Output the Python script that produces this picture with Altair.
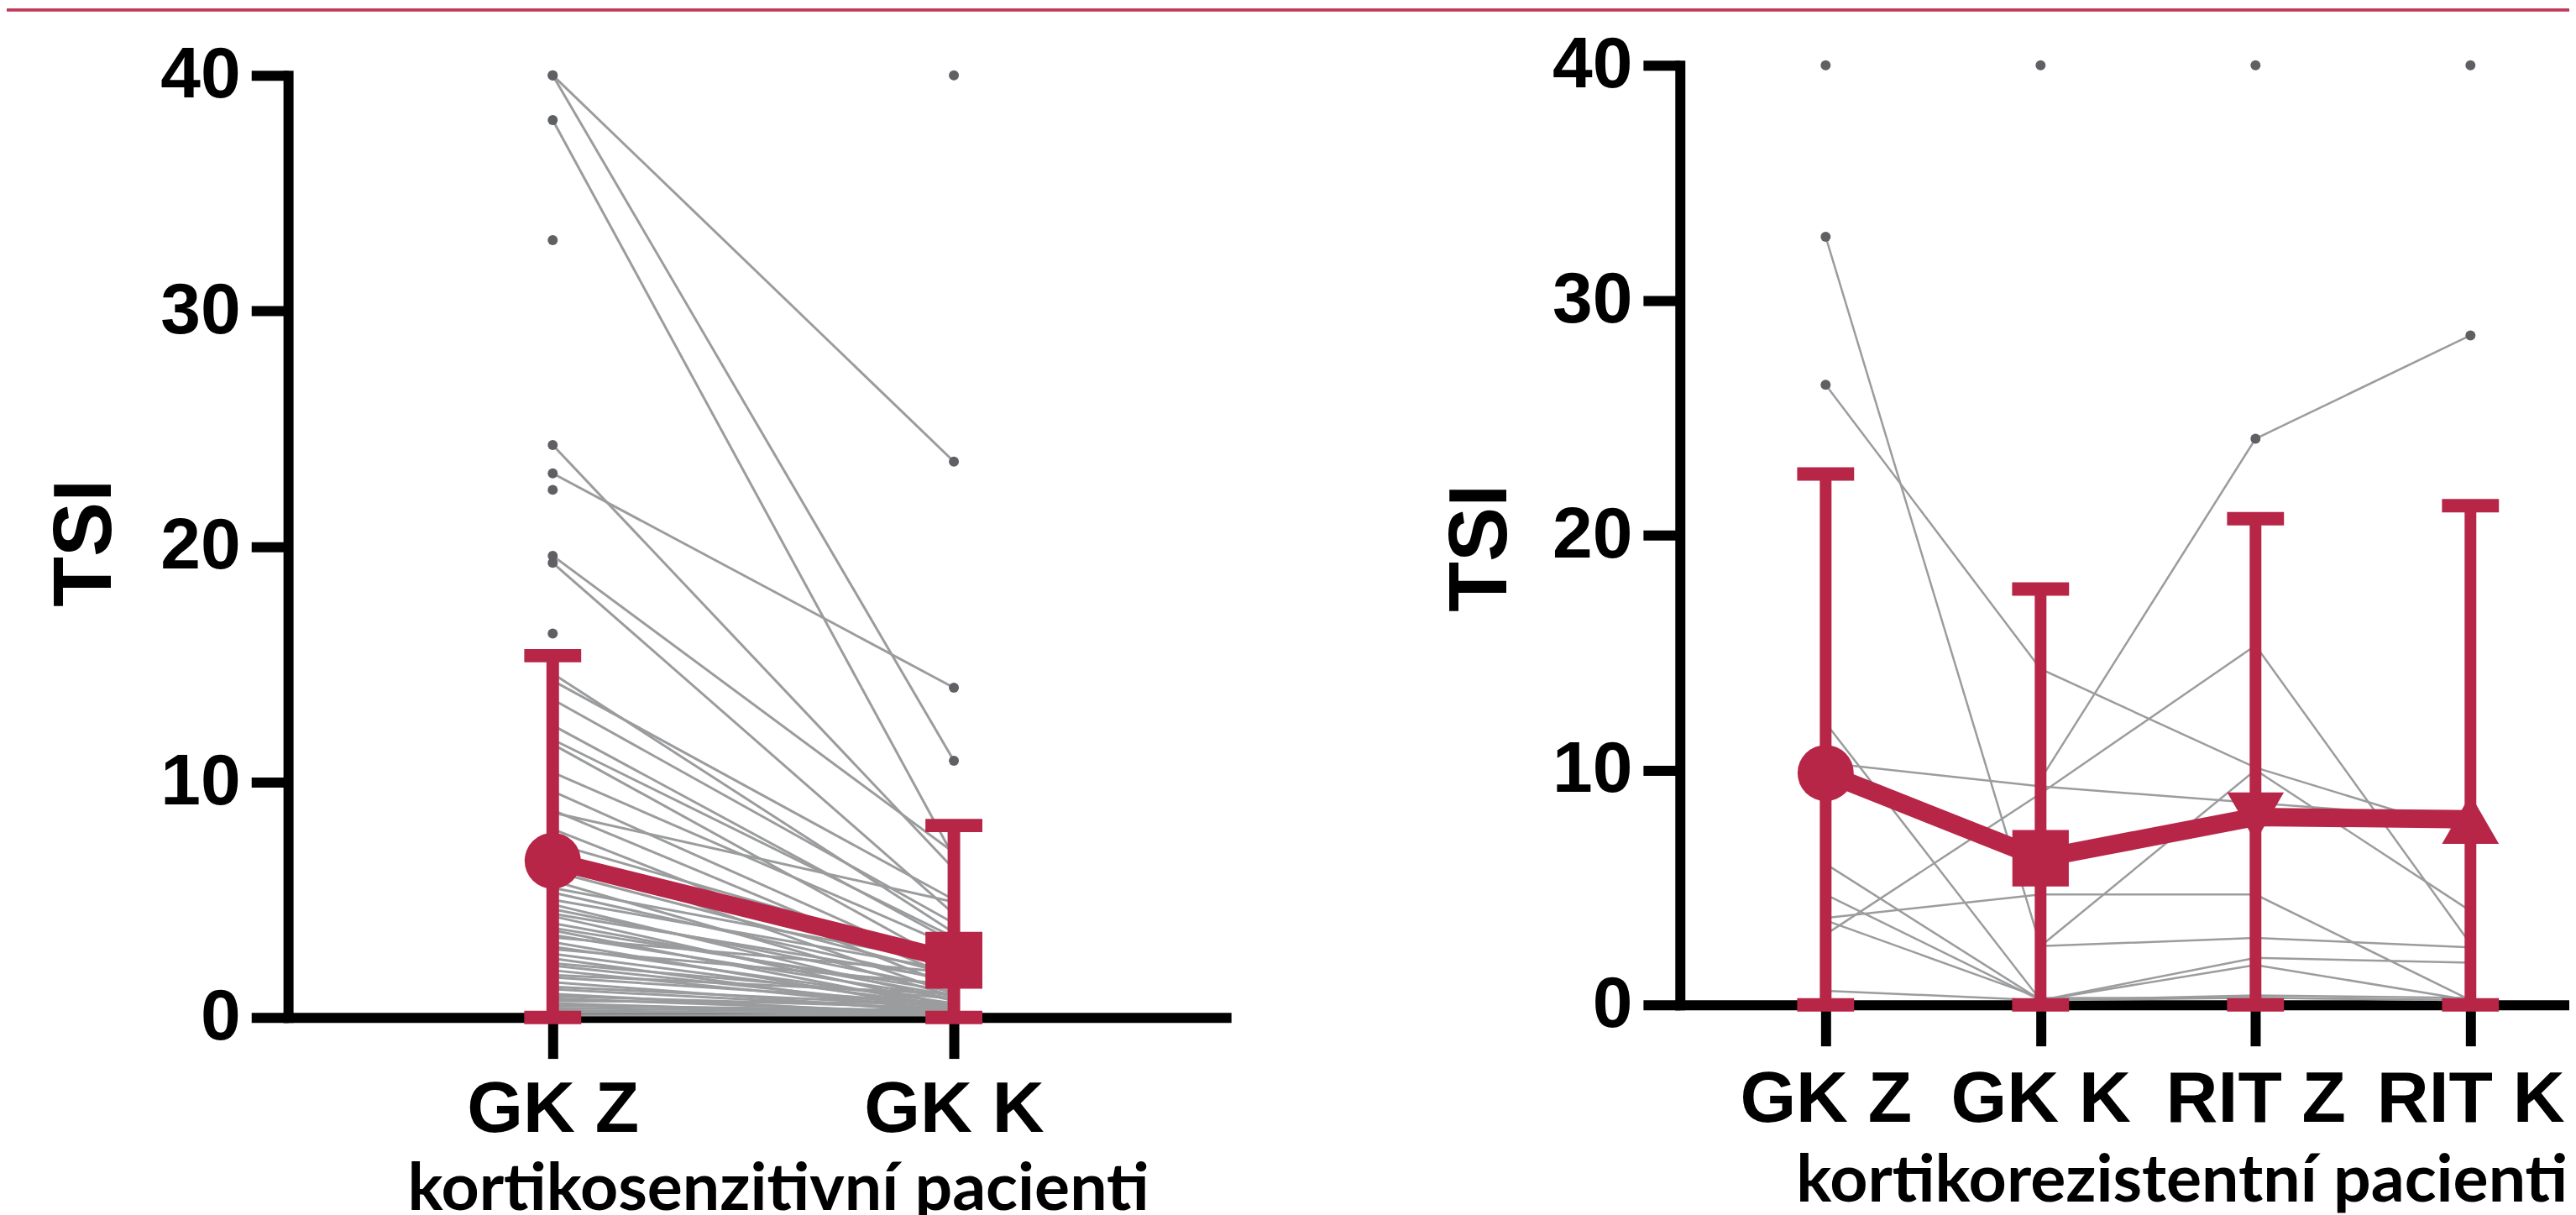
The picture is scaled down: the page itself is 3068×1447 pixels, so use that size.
import altair as alt
import pandas as pd

# ---------------- data ----------------
y_ticks = [0, 10, 20, 30, 40]

# left panel: kortikosenzitivní pacienti (paired GK Z -> GK K)
left_cats = ["GK Z", "GK K"]
left_gkz = [40.0, 40.0, 38.1, 24.3, 23.1, 19.6, 19.3, 33.0, 22.4, 16.3, None,
            14.6, 14.3, 13.5, 12.4, 11.8, 11.6, 10.4, 9.6, 8.8, 8.7, 8.0, 7.4, 6.9, 6.2, 5.8,
            5.5, 5.3, 5.0, 4.8, 4.6, 4.4, 4.3, 4.0, 3.8, 3.7, 3.5, 3.4, 3.2, 3.0, 2.9, 2.7,
            2.5, 2.3, 2.2, 2.0, 1.8, 1.7, 1.5, 1.3, 1.2, 1.0, 0.9, 0.8, 0.7, 0.6, 0.5, 0.4,
            0.3, 0.2, 0.1]
left_gkk = [23.6, 10.9, 6.8, 6.3, 14.0, 7.0, 4.4, None, None, None, 40.0,
            3.6, 5.0, 4.0, 3.2, 3.4, 2.2, 3.0, 2.0, 1.7, 4.9, 1.3, 2.5, 1.0, 1.8, 0.9,
            2.3, 1.5, 2.0, 0.7, 1.2, 1.6, 0.5, 0.9, 1.1, 0.4, 0.8, 1.9, 0.3, 0.6, 1.4, 0.5,
            0.2, 0.8, 0.4, 0.3, 1.0, 0.6, 0.2, 0.5, 0.3, 0.1, 0.4, 0.2, 0.6, 0.1, 0.3, 0.2,
            0.1, 0.2, 0.1]
left_mean = [6.65, 2.43]
left_sd_top = [15.36, 8.15]
left_sd_bottom = [0.0, 0.0]

# right panel: kortikorezistentní pacienti
right_cats = ["GK Z", "GK K", "RIT Z", "RIT K"]
right_gkz = [40.0, None, None, None, 32.7, 26.4, 12.0, 10.3, None, 6.0, 4.7, 3.7, 3.6, 3.0, 0.6, None]
right_gkk = [None, 40.0, None, None, 2.5, 14.3, 0.2, 9.3, 9.6, 0.2, 0.2, 4.7, 0.3, 9.0, 0.2, 2.5]
right_ritz = [None, None, 40.0, None, 2.85, 10.1, 1.7, 8.6, 24.1, 2.0, 0.4, 4.7, 0.3, 15.3, 0.3, 10.0]
right_ritk = [None, None, None, 40.0, 2.45, 7.3, 0.2, 7.9, 28.5, 1.8, 0.3, 0.2, 0.2, 2.6, 0.2, 4.0]
right_mean = [9.87, 6.24, 8.0, 7.9]
right_sd_top = [22.6, 17.7, 20.7, 21.25]
right_sd_bottom = [0.0, 0.0, 0.0, 0.0]

# ---------------- styling ----------------
CRIMSON = "#b72647"
TOPLINE = "#c0385a"
GREY = "#9b9c9e"
DOT = "#5f6063"
NUM_FONT = "Liberation Sans"
TITLE_FONT = "Lato"

VIEW_W = 2712     # left panel y axis -> page edge
VIEW_H = 1125


def long_table(cats, series):
    rows = []
    for pid, vals in enumerate(zip(*series)):
        for i, (c, v) in enumerate(zip(cats, vals)):
            if v is not None:
                rows.append({"pid": pid, "cat": c, "idx": i, "val": v})
    return pd.DataFrame(rows)


def summary_table(cats, mean, top, bottom):
    return pd.DataFrame({"cat": cats, "idx": list(range(len(cats))),
                         "mean": mean, "top": top, "bottom": bottom})


def panel(cats, long_df, summ, *, xrange, pad, align, yrange, x_offset, y_offset,
          title, title_x, title_y, ytitle_x, ytitle_y, label_pad_x,
          line_w, mean_w, bar_w, shapes, sizes):
    xscale = alt.Scale(type="point", domain=cats, padding=pad, align=align, range=xrange)
    xaxis = alt.Axis(title=title, orient="bottom", offset=x_offset,
                     labelAngle=0, grid=False, labelLimit=1000,
                     domainWidth=12, domainColor="black", domainCap="square",
                     tickWidth=12, tickSize=49, tickColor="black",
                     labelFont=NUM_FONT, labelFontWeight="bold", labelFontSize=86,
                     labelColor="black", labelBaseline="alphabetic",
                     labelPadding=label_pad_x,
                     titleFont=TITLE_FONT, titleFontWeight="bold", titleFontSize=79,
                     titleColor="black", titleX=title_x, titleY=title_y,
                     titleAlign="center", titleBaseline="alphabetic", titleLimit=3000)
    yscale = alt.Scale(domain=[0, 40], range=yrange)
    yaxis = alt.Axis(title="TSI", orient="left", offset=y_offset,
                     values=y_ticks, grid=False,
                     domainWidth=12, domainColor="black", domainCap="square",
                     tickWidth=12, tickSize=44, tickColor="black",
                     labelFont=NUM_FONT, labelFontWeight="bold", labelFontSize=86,
                     labelColor="black", labelPadding=13, labelBaseline="middle",
                     labelOverlap=False, labelFlush=False,
                     titleFont=NUM_FONT, titleFontWeight="bold", titleFontSize=98,
                     titleColor="black", titleAngle=270, titleX=ytitle_x,
                     titleY=ytitle_y, titleAlign="center", titleBaseline="alphabetic")

    X = alt.X("cat:N", scale=xscale, axis=xaxis)

    def Y(field):
        return alt.Y(field, scale=yscale, axis=yaxis)

    lines = alt.Chart(long_df).mark_line(color=GREY, strokeWidth=line_w).encode(
        x=X, y=Y("val:Q"), detail="pid:N", order="idx:Q")
    dots = alt.Chart(long_df).mark_circle(color=DOT, size=144, opacity=1).encode(
        x=X, y=Y("val:Q"))
    bars = alt.Chart(summ).mark_rule(color=CRIMSON, strokeWidth=bar_w).encode(
        x=X, y=Y("bottom:Q"), y2="top:Q")
    caps_top = alt.Chart(summ).mark_tick(color=CRIMSON, orient="horizontal", size=68,
                                         thickness=16, opacity=1).encode(
        x=X, y=Y("top:Q"))
    caps_bot = alt.Chart(summ).mark_tick(color=CRIMSON, orient="horizontal", size=68,
                                         thickness=16, opacity=1).encode(
        x=X, y=Y("bottom:Q"))
    mean_line = alt.Chart(summ).mark_line(color=CRIMSON, strokeWidth=mean_w).encode(
        x=X, y=Y("mean:Q"), order="idx:Q")
    mean_pts = alt.Chart(summ).mark_point(filled=True, opacity=1, color=CRIMSON,
                                          strokeWidth=0).encode(
        x=X, y=Y("mean:Q"),
        shape=alt.Shape("cat:N", scale=alt.Scale(domain=cats, range=shapes), legend=None),
        size=alt.Size("cat:O", scale=alt.Scale(domain=cats, range=sizes), legend=None))

    return alt.layer(lines, dots, bars, caps_top, caps_bot, mean_line, mean_pts)


left = panel(
    left_cats, long_table(left_cats, [left_gkz, left_gkk]),
    summary_table(left_cats, left_mean, left_sd_top, left_sd_bottom),
    xrange=[0, 1120], pad=0.669, align=0.493, yrange=[VIEW_H, 0],
    x_offset=0, y_offset=0,
    title="kortikosenzitivní pacienti", title_x=585, title_y=229,
    ytitle_x=-212, ytitle_y=558, label_pad_x=87,
    line_w=3, mean_w=21, bar_w=15,
    shapes=["circle", "square"], sizes=[4500, 4624])

# right panel's x axis runs past the page edge (as in the original figure)
right = panel(
    right_cats, long_table(right_cats, [right_gkz, right_gkk, right_ritz, right_ritk]),
    summary_table(right_cats, right_mean, right_sd_top, right_sd_bottom),
    xrange=[1662, 2780], pad=0.678, align=0.5, yrange=[1110, -12],
    x_offset=-15, y_offset=-1662,
    title="kortikorezistentní pacienti", title_x=2261, title_y=234,
    ytitle_x=-208, ytitle_y=564, label_pad_x=90,
    line_w=2.5, mean_w=22, bar_w=14,
    shapes=["circle", "square", "triangle-down", "triangle-up"],
    sizes=[4500, 4624, 4624, 4624])

# thin crimson line across the top of the page
top_line = alt.Chart(pd.DataFrame({"k": [0]})).mark_rect(
    color=TOPLINE, opacity=1, strokeWidth=0).encode(
    x=alt.value(-336), x2=alt.value(2730), y=alt.value(-80), y2=alt.value(-76))

chart = alt.layer(top_line, left, right).resolve_scale(
    x="independent", y="independent", shape="independent", size="independent"
).properties(
    width=VIEW_W, height=VIEW_H,
    autosize=alt.AutoSizeParams(type="none"),
    padding={"left": 336, "top": 80, "right": 12, "bottom": 234},
    background="white",
).configure_view(stroke=None, strokeWidth=0)

chart.save("out.html", embed_options={"renderer": "svg", "actions": False})
